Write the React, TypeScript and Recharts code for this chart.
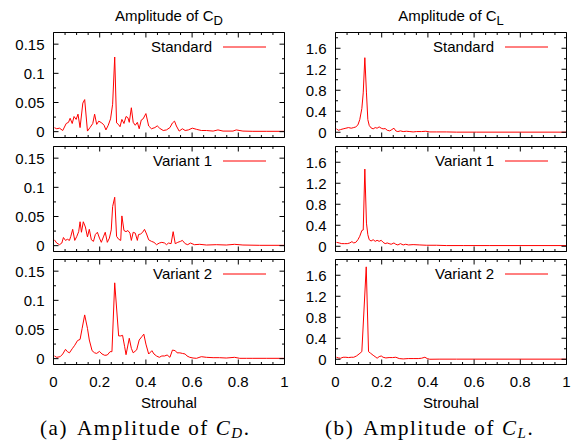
import React from 'react';
import { LineChart, Line, XAxis, YAxis } from 'recharts';

// ---------- data ----------
const cdStandardSt = [0.004,0.014,0.026,0.040,0.055,0.065,0.072,0.081,0.089,0.098,0.106,0.115,0.127,0.135,0.147,0.158,0.170,0.178,0.187,0.196,0.209,0.219,0.227,0.237,0.247,0.256,0.265,0.273,0.281,0.288,0.296,0.305,0.314,0.322,0.328,0.337,0.345,0.354,0.363,0.371,0.380,0.388,0.400,0.412,0.424,0.439,0.449,0.460,0.475,0.489,0.504,0.515,0.524,0.532,0.544,0.558,0.570,0.584,0.601,0.619,0.640,0.662,0.691,0.712,0.734,0.777,0.791,0.820,0.863,0.921,1.0];
const cdStandardAmp = [0.0068,0.005,0.006,0.002,0.014,0.016,0.023,0.014,0.026,0.021,0.030,0.007,0.049,0.055,0.001,0.007,0.014,0.030,0.0125,0.018,0.015,0.011,0.003,0.011,0.022,0.047,0.128,0.015,0.0125,0.0085,0.021,0.014,0.026,0.024,0.016,0.041,0.016,0.011,0.016,0.005,0.020,0.022,0.031,0.0097,0.005,0.007,0.010,0.0057,0.002,0.003,0.007,0.015,0.018,0.0097,0.001,0.005,0.002,0.003,0.006,0.004,0.002,0.002,0.001,0.003,0.001,0.001,0.003,0.001,0.0006,0.0006,0.0006];

const cdVariant1St = [0.004,0.014,0.026,0.036,0.043,0.052,0.060,0.069,0.075,0.083,0.092,0.101,0.109,0.115,0.121,0.129,0.138,0.147,0.155,0.164,0.173,0.181,0.190,0.199,0.207,0.216,0.224,0.233,0.242,0.250,0.256,0.265,0.273,0.282,0.291,0.296,0.305,0.314,0.322,0.331,0.337,0.345,0.354,0.363,0.368,0.377,0.386,0.394,0.403,0.412,0.424,0.435,0.446,0.458,0.469,0.481,0.489,0.498,0.509,0.518,0.527,0.538,0.550,0.558,0.570,0.581,0.593,0.610,0.633,0.662,0.705,0.748,0.784,0.820,0.892,1.0];
const cdVariant1Amp = [0.010,0.0045,0.0017,0.0045,0.014,0.009,0.011,0.009,0.016,0.028,0.009,0.016,0.024,0.041,0.023,0.041,0.032,0.015,0.028,0.010,0.0074,0.019,0.023,0.013,0.0057,0.015,0.023,0.0057,0.013,0.027,0.067,0.083,0.016,0.011,0.009,0.051,0.026,0.024,0.026,0.0215,0.009,0.023,0.0215,0.009,0.019,0.020,0.023,0.028,0.020,0.010,0.0074,0.0057,0.0017,0.0045,0.0057,0.0045,0.0017,0.0045,0.0034,0.024,0.0034,0.0057,0.0074,0.009,0.0034,0.0017,0.0045,0.0017,0.0023,0.0011,0.0017,0.0011,0.0023,0.0011,0.0006,0.0006];

const cdVariant2St = [0.004,0.014,0.029,0.040,0.052,0.060,0.069,0.081,0.092,0.104,0.115,0.124,0.135,0.147,0.155,0.167,0.178,0.187,0.199,0.210,0.222,0.233,0.245,0.253,0.265,0.282,0.291,0.299,0.308,0.314,0.328,0.337,0.345,0.360,0.371,0.383,0.391,0.400,0.412,0.426,0.435,0.446,0.458,0.469,0.481,0.492,0.504,0.515,0.527,0.535,0.547,0.558,0.570,0.578,0.590,0.604,0.619,0.640,0.662,0.691,0.719,0.748,0.784,0.806,0.835,0.863,0.921,1.0];
const cdVariant2Amp = [0.0046,0.0023,0.0034,0.008,0.016,0.012,0.010,0.017,0.023,0.031,0.033,0.052,0.075,0.052,0.032,0.0137,0.010,0.009,0.0125,0.008,0.0057,0.0063,0.012,0.012,0.130,0.039,0.039,0.040,0.0205,0.0068,0.035,0.0177,0.010,0.015,0.032,0.038,0.042,0.025,0.008,0.0137,0.008,0.0046,0.0023,0.0046,0.0046,0.0063,0.0023,0.0148,0.0137,0.010,0.010,0.009,0.008,0.0046,0.0023,0.0011,0.0006,0.0034,0.0023,0.0017,0.0017,0.0011,0.0023,0.0006,0.0006,0.0006,0.0006,0.0006];

const clStandardSt = [0.004,0.013,0.022,0.033,0.045,0.056,0.068,0.079,0.088,0.097,0.105,0.114,0.120,0.127,0.134,0.140,0.146,0.154,0.163,0.172,0.180,0.189,0.198,0.206,0.215,0.224,0.235,0.244,0.253,0.261,0.270,0.281,0.293,0.307,0.322,0.336,0.351,0.372,0.391,0.408,0.437,0.481,0.524,0.610,1.0];
const clStandardAmp = [0.064,0.038,0.051,0.064,0.077,0.089,0.077,0.089,0.102,0.14,0.24,0.45,0.75,1.42,0.75,0.24,0.13,0.083,0.064,0.089,0.077,0.102,0.077,0.064,0.07,0.038,0.026,0.051,0.077,0.026,0.013,0.026,0.013,0.019,0.013,0.006,0.013,0.013,0.019,0.006,0.006,0.006,0.002,0.002,0.002];

const clVariant1St = [0.004,0.016,0.027,0.039,0.051,0.062,0.071,0.079,0.088,0.097,0.105,0.114,0.120,0.127,0.134,0.140,0.146,0.154,0.163,0.172,0.180,0.189,0.198,0.206,0.215,0.224,0.232,0.241,0.253,0.261,0.270,0.281,0.293,0.304,0.316,0.336,0.365,0.394,0.437,0.481,0.553,0.668,1.0];
const clVariant1Amp = [0.075,0.063,0.05,0.05,0.05,0.063,0.088,0.063,0.075,0.125,0.19,0.30,0.31,1.47,0.44,0.22,0.125,0.10,0.125,0.094,0.113,0.094,0.113,0.075,0.05,0.063,0.05,0.038,0.063,0.038,0.025,0.05,0.025,0.038,0.025,0.031,0.025,0.019,0.019,0.013,0.013,0.013,0.013];

const clVariant2St = [0.004,0.013,0.022,0.033,0.045,0.056,0.068,0.079,0.091,0.102,0.114,0.133,0.143,0.152,0.163,0.175,0.180,0.189,0.198,0.206,0.218,0.232,0.247,0.261,0.276,0.293,0.315,0.336,0.358,0.372,0.387,0.397,0.408,0.452,0.524,1.0];
const clVariant2Amp = [0.038,0.025,0.019,0.038,0.038,0.032,0.038,0.038,0.063,0.10,0.145,1.76,0.145,0.114,0.076,0.038,0.019,0.05,0.063,0.038,0.025,0.032,0.032,0.038,0.013,0.006,0.013,0.013,0.013,0.019,0.038,0.013,0.0,0.002,0.002,0.002];

const seriesNames = ['Standard', 'Variant 1', 'Variant 2'];

const stMajorTicks = [0, 0.2, 0.4, 0.6, 0.8, 1];
const stAllTicks = [0, 0.05, 0.1, 0.15, 0.2, 0.25, 0.3, 0.35, 0.4, 0.45, 0.5, 0.55, 0.6, 0.65, 0.7, 0.75, 0.8, 0.85, 0.9, 0.95, 1];
const cdMajorTicks = [0, 0.05, 0.1, 0.15];
const cdAllTicks = [0, 0.025, 0.05, 0.075, 0.1, 0.125, 0.15];
const clMajorTicks = [0, 0.4, 0.8, 1.2, 1.6];
const clAllTicks = [0, 0.2, 0.4, 0.6, 0.8, 1.0, 1.2, 1.4, 1.6, 1.8];
const cdDomain = [-0.01, 0.17];
const clDomain = [-0.1, 1.9];
const stDomain = [0, 1];

// ---------- layout ----------
const FONT = '"Liberation Sans", Arial, Helvetica, sans-serif';
const SERIF = '"Liberation Serif", "Times New Roman", serif';
const RED = '#ff0000';
const TXT = 15;

const toRows = (xs: number[], ys: number[]) => xs.map((x, i) => ({ x, y: ys[i] }));

const makeXTick = (majors: number[], showLabel: boolean, side: 'bottom' | 'top') => (props: any) => {
  const { x, y, payload } = props;
  const v = payload.value;
  const major = majors.includes(v);
  const len = major ? 5 : 2.5;
  const dir = side === 'bottom' ? -1 : 1;
  return (
    <g>
      <line x1={x} x2={x} y1={y} y2={y + dir * len} stroke="#000" strokeWidth={1} />
      {showLabel && major ? (
        <text x={x} y={y + 22} textAnchor="middle" fontSize={TXT} fontFamily={FONT} fill="#000">{String(v)}</text>
      ) : null}
    </g>
  );
};

const makeYTick = (majors: number[], side: 'left' | 'right') => (props: any) => {
  const { x, y, payload } = props;
  const v = payload.value;
  const major = majors.includes(v);
  const len = major ? 5 : 2.5;
  const dir = side === 'left' ? 1 : -1;
  return (
    <g>
      <line x1={x} x2={x + dir * len} y1={y} y2={y} stroke="#000" strokeWidth={1} />
      {side === 'left' && major ? (
        <text x={x - 9} y={y + 5.4} textAnchor="end" fontSize={TXT} fontFamily={FONT} fill="#000">{String(v)}</text>
      ) : null}
    </g>
  );
};

type PanelProps = {
  left: number;
  top: number;
  rows: { x: number; y: number }[];
  domain: number[];
  yMajors: number[];
  yAll: number[];
  bottom: boolean;
};

function Panel({ left, top, rows, domain, yMajors, yAll, bottom }: PanelProps) {
  const mb = bottom ? 44.5 : 4.5;
  const h = 5.5 + 105 + 1 + mb;
  return (
    <div style={{ position: 'absolute', left, top, width: 290, height: h }}>
      <LineChart width={290} height={h} data={rows} margin={{ top: 4.5, right: 4.5, bottom: mb, left: 52.5 }}>
        <XAxis xAxisId="b" dataKey="x" type="number" domain={stDomain} allowDataOverflow ticks={stAllTicks} interval={0}
          orientation="bottom" height={1} tickSize={0} tickMargin={0} tickLine={false}
          axisLine={{ stroke: '#000', strokeWidth: 1 }} tick={makeXTick(stMajorTicks, bottom, 'bottom')} />
        <XAxis xAxisId="t" dataKey="x" type="number" domain={stDomain} allowDataOverflow ticks={stAllTicks} interval={0}
          orientation="top" height={1} tickSize={0} tickMargin={0} tickLine={false}
          axisLine={{ stroke: '#000', strokeWidth: 1 }} tick={makeXTick(stMajorTicks, false, 'top')} />
        <YAxis yAxisId="l" type="number" domain={domain} allowDataOverflow ticks={yAll} interval={0}
          orientation="left" width={1} tickSize={0} tickMargin={0} tickLine={false}
          axisLine={{ stroke: '#000', strokeWidth: 1 }} tick={makeYTick(yMajors, 'left')} />
        <YAxis yAxisId="r" type="number" domain={domain} allowDataOverflow ticks={yAll} interval={0}
          orientation="right" width={1} tickSize={0} tickMargin={0} tickLine={false}
          axisLine={{ stroke: '#000', strokeWidth: 1 }} tick={makeYTick(yMajors, 'right')} />
        <Line xAxisId="b" yAxisId="l" type="linear" dataKey="y" stroke={RED} strokeWidth={1} dot={false}
          activeDot={false} isAnimationActive={false} />
      </LineChart>
    </div>
  );
}

const panelTops = [27, 141, 254];
const cdRows = [toRows(cdStandardSt, cdStandardAmp), toRows(cdVariant1St, cdVariant1Amp), toRows(cdVariant2St, cdVariant2Amp)];
const clRows = [toRows(clStandardSt, clStandardAmp), toRows(clVariant1St, clVariant1Amp), toRows(clVariant2St, clVariant2Amp)];

export default function App() {
  return (
    <div style={{ position: 'absolute', left: 0, top: 0, width: 575, height: 448, background: '#fff', overflow: 'hidden' }}>
      {panelTops.map((t, i) => (
        <Panel key={'cd' + i} left={0} top={t} rows={cdRows[i]} domain={cdDomain} yMajors={cdMajorTicks} yAll={cdAllTicks} bottom={i === 2} />
      ))}
      {panelTops.map((t, i) => (
        <Panel key={'cl' + i} left={282} top={t} rows={clRows[i]} domain={clDomain} yMajors={clMajorTicks} yAll={clAllTicks} bottom={i === 2} />
      ))}
      <svg width={575} height={448} style={{ position: 'absolute', left: 0, top: 0, pointerEvents: 'none' }}>
        <text x={169} y={21} textAnchor="middle" fontSize={TXT} fontFamily={FONT} fill="#000">
          Amplitude of C<tspan dy={4} fontSize={13}>D</tspan>
        </text>
        <text x={451} y={21} textAnchor="middle" fontSize={TXT} fontFamily={FONT} fill="#000">
          Amplitude of C<tspan dy={4} fontSize={13}>L</tspan>
        </text>
        {panelTops.map((t, i) => (
          <g key={'lg' + i}>
            <text x={212} y={t + 5.5 + 19.5} textAnchor="end" fontSize={TXT} fontFamily={FONT} fill="#000">{seriesNames[i]}</text>
            <line x1={223} x2={266} y1={t + 5.5 + 14.5} y2={t + 5.5 + 14.5} stroke={RED} strokeWidth={1} />
            <text x={494} y={t + 5.5 + 19.5} textAnchor="end" fontSize={TXT} fontFamily={FONT} fill="#000">{seriesNames[i]}</text>
            <line x1={505} x2={548} y1={t + 5.5 + 14.5} y2={t + 5.5 + 14.5} stroke={RED} strokeWidth={1} />
          </g>
        ))}
        <text x={169} y={408} textAnchor="middle" fontSize={TXT} fontFamily={FONT} fill="#000">Strouhal</text>
        <text x={451} y={408} textAnchor="middle" fontSize={TXT} fontFamily={FONT} fill="#000">Strouhal</text>
        <text x={40} y={435} textAnchor="start" fontSize={21} fontFamily={SERIF} fill="#000" letterSpacing={1.6}>
          (a)<tspan dx={9}>Amplitude of </tspan><tspan fontStyle="italic">C</tspan><tspan fontStyle="italic" fontSize={15} dy={3}>D</tspan><tspan dy={-3}>.</tspan>
        </text>
        <text x={325} y={435} textAnchor="start" fontSize={21} fontFamily={SERIF} fill="#000" letterSpacing={1.6}>
          (b)<tspan dx={9}>Amplitude of </tspan><tspan fontStyle="italic">C</tspan><tspan fontStyle="italic" fontSize={15} dy={3}>L</tspan><tspan dy={-3}>.</tspan>
        </text>
      </svg>
    </div>
  );
}
